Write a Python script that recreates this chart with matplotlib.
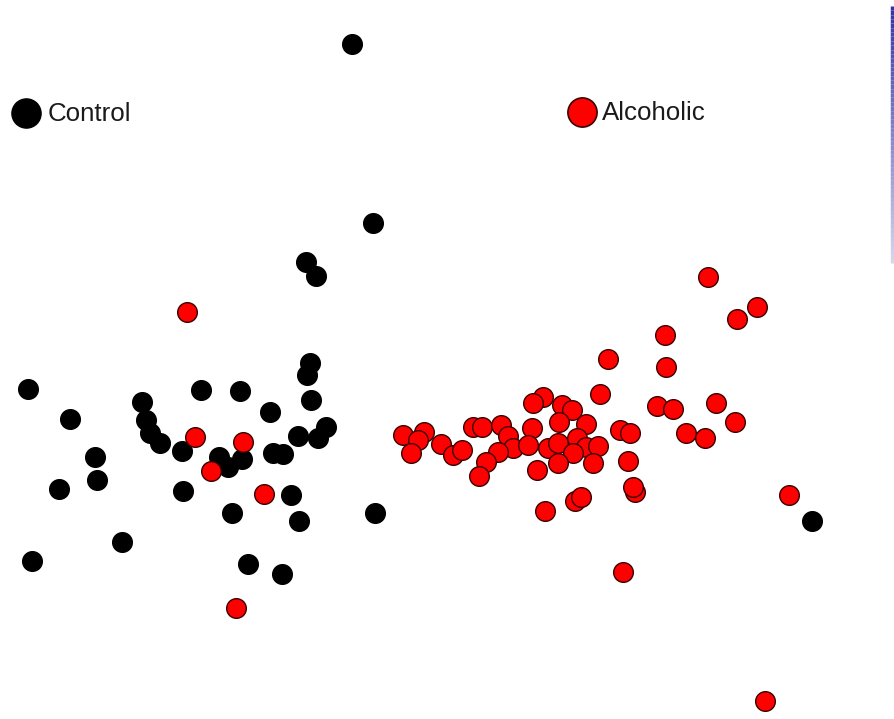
import matplotlib.pyplot as plt
import numpy as np
from matplotlib.collections import LineCollection

# ordination scores, screen-like units (y grows downward)
ctrl_x = [352, 373, 306, 316, 28, 70, 95, 97, 59, 122, 32, 201, 240, 142, 146,
          150, 160, 182, 270, 311, 307, 310, 298, 326, 318, 273, 283, 219, 228,
          242, 183, 291, 299, 232, 375, 248, 282, 812]
ctrl_y = [44, 223, 262, 276, 389, 419, 457, 480, 489, 542, 561, 390, 391, 402,
          420, 433, 443, 451, 412, 400, 375, 363, 436, 427, 438, 453, 454, 457,
          467, 459, 491, 495, 521, 513, 513, 564, 574, 521]

alc_x = [187, 195, 243, 211, 264, 236,
         403, 424, 418, 411, 441, 453, 462, 473, 482, 501, 508, 513, 498, 486, 479,
         543, 533, 600, 562, 572, 559, 586, 532, 528, 548, 558, 577, 586, 598, 573,
         558, 593, 537, 620, 630, 628, 635, 633, 575, 581, 545,
         623, 765, 789, 708, 757, 737, 665, 608, 666, 657, 673, 716, 735, 686, 705]
alc_y = [312, 437, 442, 471, 494, 608,
         435, 432, 440, 453, 444, 455, 450, 427, 427, 425, 436, 448, 452, 462, 476,
         397, 403, 394, 405, 410, 422, 424, 428, 445, 448, 443, 438, 447, 446, 453,
         463, 463, 470, 430, 433, 461, 492, 487, 501, 497, 511,
         572, 701, 495, 277, 307, 319, 335, 359, 367, 406, 409, 403, 422, 433, 438]

grupos = ["Control", "Alcoholic"]

fig = plt.figure(figsize=(8.95, 7.19), dpi=100)
ax = fig.add_axes([0, 0, 1, 1])
ax.set_xlim(0, 895)
ax.set_ylim(719, 0)
ax.axis("off")

ax.scatter(ctrl_x, ctrl_y, s=200, c="black", edgecolors="black", linewidths=1, zorder=2)
ax.scatter(alc_x, alc_y, s=200, c="#ff0000", edgecolors="#3a0000", linewidths=1, zorder=3)

# rótulos dos grupos
ax.plot(26, 113, "o", ms=21, mfc="black", mec="black", mew=1)
ax.text(48, 114, grupos[0], fontsize=18.6, family="Liberation Sans",
        va="center", ha="left", color="#1a1a1a")
ax.plot(582, 112, "o", ms=21, mfc="#ff0000", mec="#3a0000", mew=1.2)
ax.text(602, 113, grupos[1], fontsize=18.6, family="Liberation Sans",
        va="center", ha="left", color="#1a1a1a")

# borda azul no canto superior direito
ys = np.linspace(6, 263, 60)
segs = [[(892, ys[i]), (892, ys[i + 1])] for i in range(len(ys) - 1)]
alphas = np.linspace(1.0, 0.2, len(segs))
cores = [(0.2, 0.2, 0.65, a) for a in alphas]
ax.add_collection(LineCollection(segs, colors=cores, linewidths=2.5, clip_on=False))

fig.savefig("out.png", dpi=100, facecolor="white")
